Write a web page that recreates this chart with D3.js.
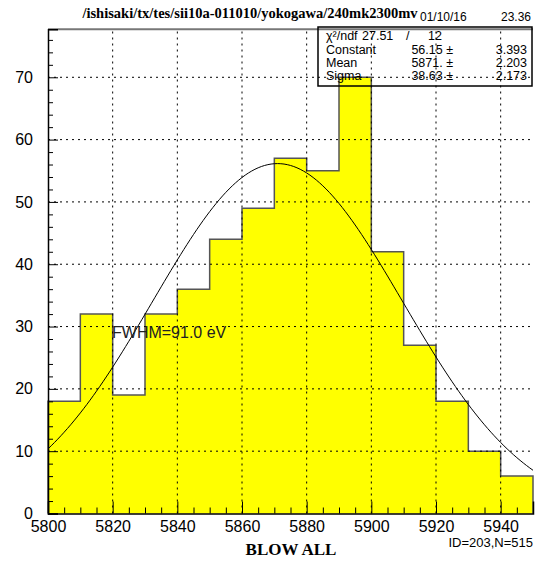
<!DOCTYPE html>
<html><head><meta charset="utf-8">
<script src="https://cdn.jsdelivr.net/npm/d3@7"></script>
<style>body{margin:0;background:#fff}svg{display:block}</style>
</head><body>
<script>
// ---- data ----
const binEdgesStart = [5800,5810,5820,5830,5840,5850,5860,5870,5880,5890,5900,5910,5920,5930,5940];
const binWidth = 10;
const counts = [18,32,19,32,36,44,49,57,55,70,42,27,18,10,6];
const xTicks = [5800,5820,5840,5860,5880,5900,5920,5940];
const yTicks = [0,10,20,30,40,50,60,70];
const fitConstant = 56.15, fitMean = 5871, fitSigma = 38.63;
const statsRows = [
  ["χ²/ndf", "27.51", "/", "12"],
  ["Constant", "56.15 ±", "", "3.393"],
  ["Mean", "5871. ±", "", "2.203"],
  ["Sigma", "38.63 ±", "", "2.173"]
];
const title = "/ishisaki/tx/tes/sii10a-011010/yokogawa/240mk2300mv";
const dateText = "01/10/16";
const timeText = "23.36";

const W=537,H=561;
const svg=d3.select("body").append("svg").attr("width",W).attr("height",H);
const x=d3.scaleLinear().domain([5800,5950]).range([48,533]);
const y=d3.scaleLinear().domain([0,77.7]).range([513.5,29.3]);

// histogram
const pts=[[x(5800),y(0)]];
counts.forEach((c,i)=>{pts.push([x(binEdgesStart[i]),y(c)]);pts.push([x(binEdgesStart[i]+binWidth),y(c)]);});
pts.push([x(5950),y(0)]);
svg.append("path").attr("d",d3.line()(pts)+"Z").attr("fill","#ffff00").attr("stroke","none");
svg.append("path").attr("d",d3.line()(pts)).attr("fill","none").attr("stroke","#555").attr("stroke-width",1.5);

// grid
const g=svg.append("g").attr("stroke","#000").attr("stroke-width",1).attr("stroke-dasharray","2,4");
xTicks.slice(1).forEach(t=>g.append("line").attr("x1",x(t)).attr("x2",x(t)).attr("y1",y(0)).attr("y2",29.3));
yTicks.slice(1).forEach(t=>g.append("line").attr("x1",x(5800)).attr("x2",x(5950)).attr("y1",y(t)).attr("y2",y(t)));

// fit curve
const xs=d3.range(5800,5950.01,1);
svg.append("path").attr("d",d3.line().x(d=>x(d)).y(d=>y(fitConstant*Math.exp(-0.5*Math.pow((d-fitMean)/fitSigma,2))))(xs))
  .attr("fill","none").attr("stroke","#000").attr("stroke-width",1);

// frame top
svg.append("line").attr("x1",48).attr("x2",533).attr("y1",29.3).attr("y2",29.3).attr("stroke","#777").attr("stroke-width",2);

// axes
const xa=svg.append("g").attr("transform",`translate(0,${y(0)})`)
  .call(d3.axisBottom(x).tickValues(xTicks).tickFormat(d3.format("d")).tickSize(-12).tickPadding(6));
xa.select(".domain").attr("stroke","#000").attr("stroke-width",1.5);
xa.selectAll("text").attr("font-family","Liberation Sans, Arial").attr("font-size",16).attr("fill","#000").attr("dy","0.8em");
const xm=svg.append("g").attr("transform",`translate(0,${y(0)})`)
  .call(d3.axisBottom(x).tickValues(d3.range(5805,5950,5).filter(v=>v%20!==0)).tickFormat("").tickSize(-6));
xm.select(".domain").remove();

const ya=svg.append("g").attr("transform",`translate(${x(5800)},0)`)
  .call(d3.axisLeft(y).tickValues(yTicks).tickFormat(d3.format("d")).tickSize(-10).tickPadding(8));
ya.select(".domain").attr("stroke","#000").attr("stroke-width",1.5);
ya.selectAll("text").attr("font-family","Liberation Sans, Arial").attr("font-size",16).attr("fill","#000").attr("x",-15);
const ym=svg.append("g").attr("transform",`translate(${x(5800)},0)`)
  .call(d3.axisLeft(y).tickValues(d3.range(2,77.7,2).filter(v=>v%10!==0)).tickFormat("").tickSize(-5));
ym.select(".domain").remove();

// stats box
const sb=svg.append("g").attr("font-family","Liberation Sans, Arial").attr("font-size",12.5).attr("fill","#000");
sb.append("rect").attr("x",318).attr("y",27).attr("width",214).attr("height",59).attr("fill","none").attr("stroke","#000").attr("stroke-width",1.5);
const rowY=[40,54,67,80];
statsRows.forEach((r,i)=>{
  if(i===0){
    sb.append("text").attr("x",326).attr("y",rowY[i]).text(r[0]);
    sb.append("text").attr("x",362).attr("y",rowY[i]).text(r[1]);
    sb.append("text").attr("x",406).attr("y",rowY[i]).text(r[2]);
    sb.append("text").attr("x",428).attr("y",rowY[i]).text(r[3]);
  } else {
    sb.append("text").attr("x",326).attr("y",rowY[i]).text(r[0]);
    sb.append("text").attr("x",453).attr("y",rowY[i]).attr("text-anchor","end").text(r[1]);
    sb.append("text").attr("x",527).attr("y",rowY[i]).attr("text-anchor","end").text(r[3]);
  }
});

// labels
svg.append("text").attr("x",250).attr("y",18).attr("text-anchor","middle").attr("font-family","Liberation Serif, Times").attr("font-weight","bold").attr("font-size",14.5).text(title);
svg.append("text").attr("x",420).attr("y",21).attr("font-family","Liberation Sans, Arial").attr("font-size",12).text(dateText);
svg.append("text").attr("x",531).attr("y",21).attr("text-anchor","end").attr("font-family","Liberation Sans, Arial").attr("font-size",12).text(timeText);
svg.append("text").attr("x",291).attr("y",555).attr("text-anchor","middle").attr("font-family","Liberation Serif, Times").attr("font-weight","bold").attr("font-size",17).text("BLOW ALL");
svg.append("text").attr("x",533).attr("y",547).attr("text-anchor","end").attr("font-family","Liberation Sans, Arial").attr("font-size",13).text("ID=203,N=515");
svg.append("text").attr("x",112).attr("y",338).attr("font-family","Liberation Sans, Arial").attr("font-size",16).attr("fill","#222").text("FWHM=91.0 eV");
</script>
</body></html>
